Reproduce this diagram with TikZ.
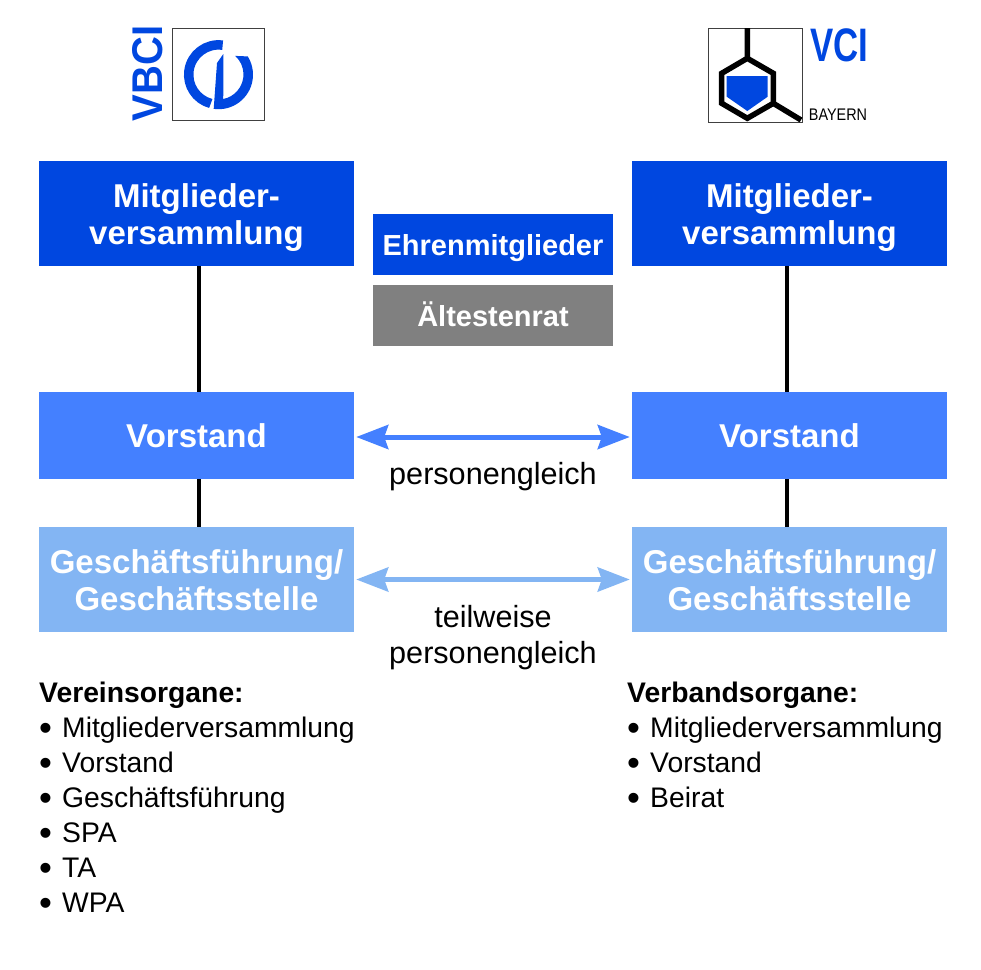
\documentclass[tikz,border=0pt]{standalone}
\usepackage{fontspec}
\setmainfont{Liberation Sans}
\usetikzlibrary{positioning,arrows.meta}
\definecolor{darkblue}{HTML}{0047E0}
\definecolor{midblue}{HTML}{4480FF}
\definecolor{lightblue}{HTML}{83B5F3}
\definecolor{midgray}{HTML}{808080}
\newcommand{\bulletitem}[1]{\makebox[23pt][l]{\raisebox{-2.5pt}{\scalebox{1.3}{\textbullet}}}#1}
\begin{document}
\begin{tikzpicture}[x=1pt,y=-1pt,
    block/.style={rectangle, inner sep=0pt, text=white, align=center, minimum width=315pt, font=\fontsize{33}{37}\selectfont\bfseries},
    twolines/.style={text height=61pt, text depth=0pt},
    oneline/.style={text height=23pt, text depth=0pt},
    smallblock/.style={rectangle, inner sep=0pt, text=white, align=center, minimum width=240pt, minimum height=61pt, font=\fontsize{29}{32}\selectfont\bfseries, text height=21pt, text depth=0pt},
    link/.style={line width=4pt, black},
    sameperson/.style={line width=5pt, {Stealth[length=32pt,width=24pt,inset=4pt]}-{Stealth[length=32pt,width=24pt,inset=4pt]}, shorten <=2pt, shorten >=2pt},
    caption/.style={inner sep=0pt, align=center, font=\fontsize{30.6}{36}\selectfont},
    organs/.style={inner sep=0pt, anchor=north west, align=left, font=\fontsize{28.3}{35}\selectfont}]
    \useasboundingbox (0,0) rectangle (981,969);

    % left column
    \node[block, twolines, fill=darkblue, minimum height=105pt] (MVL) at (196.5,213.5) {Mitglieder-\\versammlung};
    \node[block, oneline, fill=midblue, minimum height=87pt] (VSL) at (196.5,435.5) {Vorstand};
    \node[block, twolines, fill=lightblue, minimum height=105pt] (GFL) at (196.5,579.5) {Geschäftsführung/\\Geschäftsstelle};

    % right column
    \node[block, twolines, fill=darkblue, minimum height=105pt] (MVR) at (789.5,213.5) {Mitglieder-\\versammlung};
    \node[block, oneline, fill=midblue, minimum height=87pt] (VSR) at (789.5,435.5) {Vorstand};
    \node[block, twolines, fill=lightblue, minimum height=105pt] (GFR) at (789.5,579.5) {Geschäftsführung/\\Geschäftsstelle};

    % middle
    \node[smallblock, fill=darkblue] (EM) at (493,244.5) {Ehrenmitglieder};
    \node[smallblock, fill=midgray] (AR) at (493,315.5) {Ältestenrat};

    \draw[link] ([xshift=2pt]MVL.south) -- ([xshift=2pt]VSL.north);
    \draw[link] ([xshift=2pt]VSL.south) -- ([xshift=2pt]GFL.north);
    \draw[link] ([xshift=-2.5pt]MVR.south) -- ([xshift=-2.5pt]VSR.north);
    \draw[link] ([xshift=-2.5pt]VSR.south) -- ([xshift=-2.5pt]GFR.north);

    \draw[sameperson, midblue] ([yshift=-1.5pt]VSL.east) -- ([yshift=-1.5pt]VSR.west);
    \draw[sameperson, lightblue] (GFL.east) -- (GFR.west);

    \node[caption] (PG) at (493,477) {personengleich};
    \node[caption] (TPG) at (493,637.5) {teilweise\\personengleich};

    % organ lists
    \node[organs] (OL) at (39,682) {\textbf{Vereinsorgane:}\\
        \bulletitem{Mitgliederversammlung}\\
        \bulletitem{Vorstand}\\
        \bulletitem{Geschäftsführung}\\
        \bulletitem{SPA}\\
        \bulletitem{TA}\\
        \bulletitem{WPA}};
    \node[organs] (OR) at (627,682) {\textbf{Verbandsorgane:}\\
        \bulletitem{Mitgliederversammlung}\\
        \bulletitem{Vorstand}\\
        \bulletitem{Beirat}};

    % VBCI logo
    \draw[line width=1pt, black!75] (172,28) rectangle (264,120);
    \node[inner sep=0pt, rotate=90, text=darkblue, font=\fontsize{43}{43}\selectfont\bfseries] (VBCI) at (147.5,73.5) {\scalebox{0.93}[1]{VBCI}};
    \draw[line width=9.5pt, darkblue] (218.5,74.7) ++(-82:29.8) arc (-82:-255:29.8);
    \fill[darkblue] (218.5,74.7) ++(98:34.5) arc (98:-32:34.5) -- (235.2,55.9) arc (-48:79:25) -- (223.3,54) -- (217,63) -- cycle;

    % VCI logo
    \draw[line width=1pt, black!75] (708,28) rectangle (802,122);
    \draw[line width=5.5pt, black] (747.3,28) -- (747.3,58.3) -- (773.3,73.3) -- (773.3,103.3) -- (747.3,118.3) -- (721.7,103.3) -- (721.7,73.3) -- (747.3,58.3);
    \draw[line width=5.5pt, black] (773.3,103.3) -- (801,120);
    \fill[darkblue] (726.7,76) -- (767.7,76) -- (767.7,96.7) -- (747.3,111) -- (726.7,96.7) -- cycle;
    \node[inner sep=0pt, text=darkblue, font=\fontsize{47}{47}\selectfont\bfseries] (VCI) at (839,45) {\scalebox{0.74}[1]{VCI}};
    \node[inner sep=0pt, font=\fontsize{15}{15}\selectfont] (BAYERN) at (838,115) {\scalebox{0.96}[1.12]{BAYERN}};
\end{tikzpicture}
\end{document}
